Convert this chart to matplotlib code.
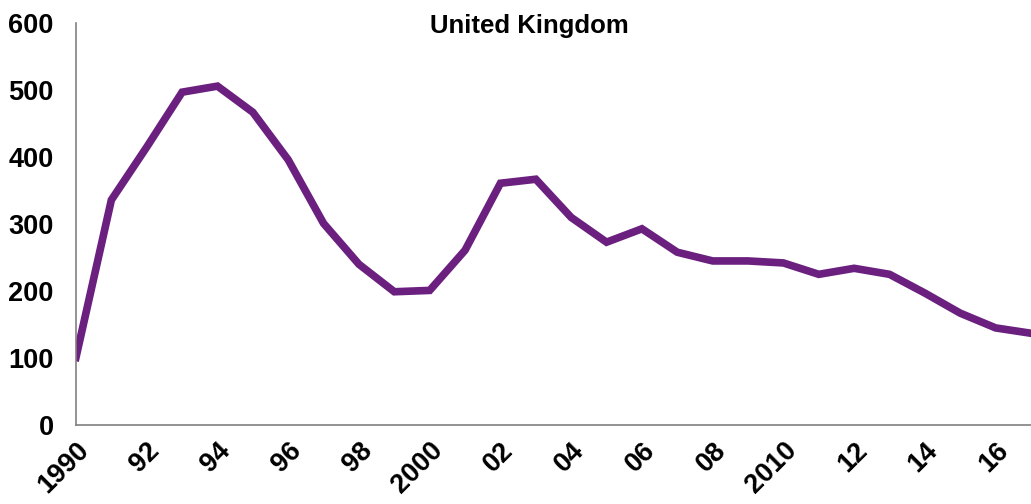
import numpy as np
import matplotlib.pyplot as plt

plt.rcParams['font.family'] = ['Liberation Sans', 'DejaVu Sans']

# data
years = np.arange(1990, 2018)
values = [101, 336, 415, 497, 506, 467, 396, 301, 240, 199,
          201, 261, 361, 367, 310, 273, 293, 258, 245, 245,
          242, 225, 234, 225, 197, 167, 145, 137]
tick_years = np.arange(1990, 2017, 2)
tick_labels = ['1990', '92', '94', '96', '98', '2000', '02', '04',
               '06', '08', '2010', '12', '14', '16']

fig = plt.figure(figsize=(10.31, 5.04), dpi=100)
ax = fig.add_axes([0.0737, 0.1567, 0.9263, 0.7973])

ax.plot(years, values, color='#6B1F7F', lw=5.5, solid_joinstyle='miter')

ax.set_xlim(1990, 2017)
ax.set_ylim(0, 600)
ax.set_yticks(range(0, 601, 100))
ax.set_xticks(tick_years)
ax.set_xticklabels(tick_labels, rotation=45, ha='right', rotation_mode='anchor')

for lab in ax.get_xticklabels() + ax.get_yticklabels():
    lab.set_fontsize(19.5)
    lab.set_fontweight('bold')

ax.tick_params(length=0)
ax.tick_params(axis='y', pad=16)
ax.tick_params(axis='x', pad=9)
for s in ['top', 'right']:
    ax.spines[s].set_visible(False)
for s in ['left', 'bottom']:
    ax.spines[s].set_color('#808080')
    ax.spines[s].set_linewidth(1.2)

fig.text(0.513, 0.935, 'United Kingdom', ha='center', fontsize=18.5, fontweight='bold')

plt.savefig('out.png', dpi=100)
